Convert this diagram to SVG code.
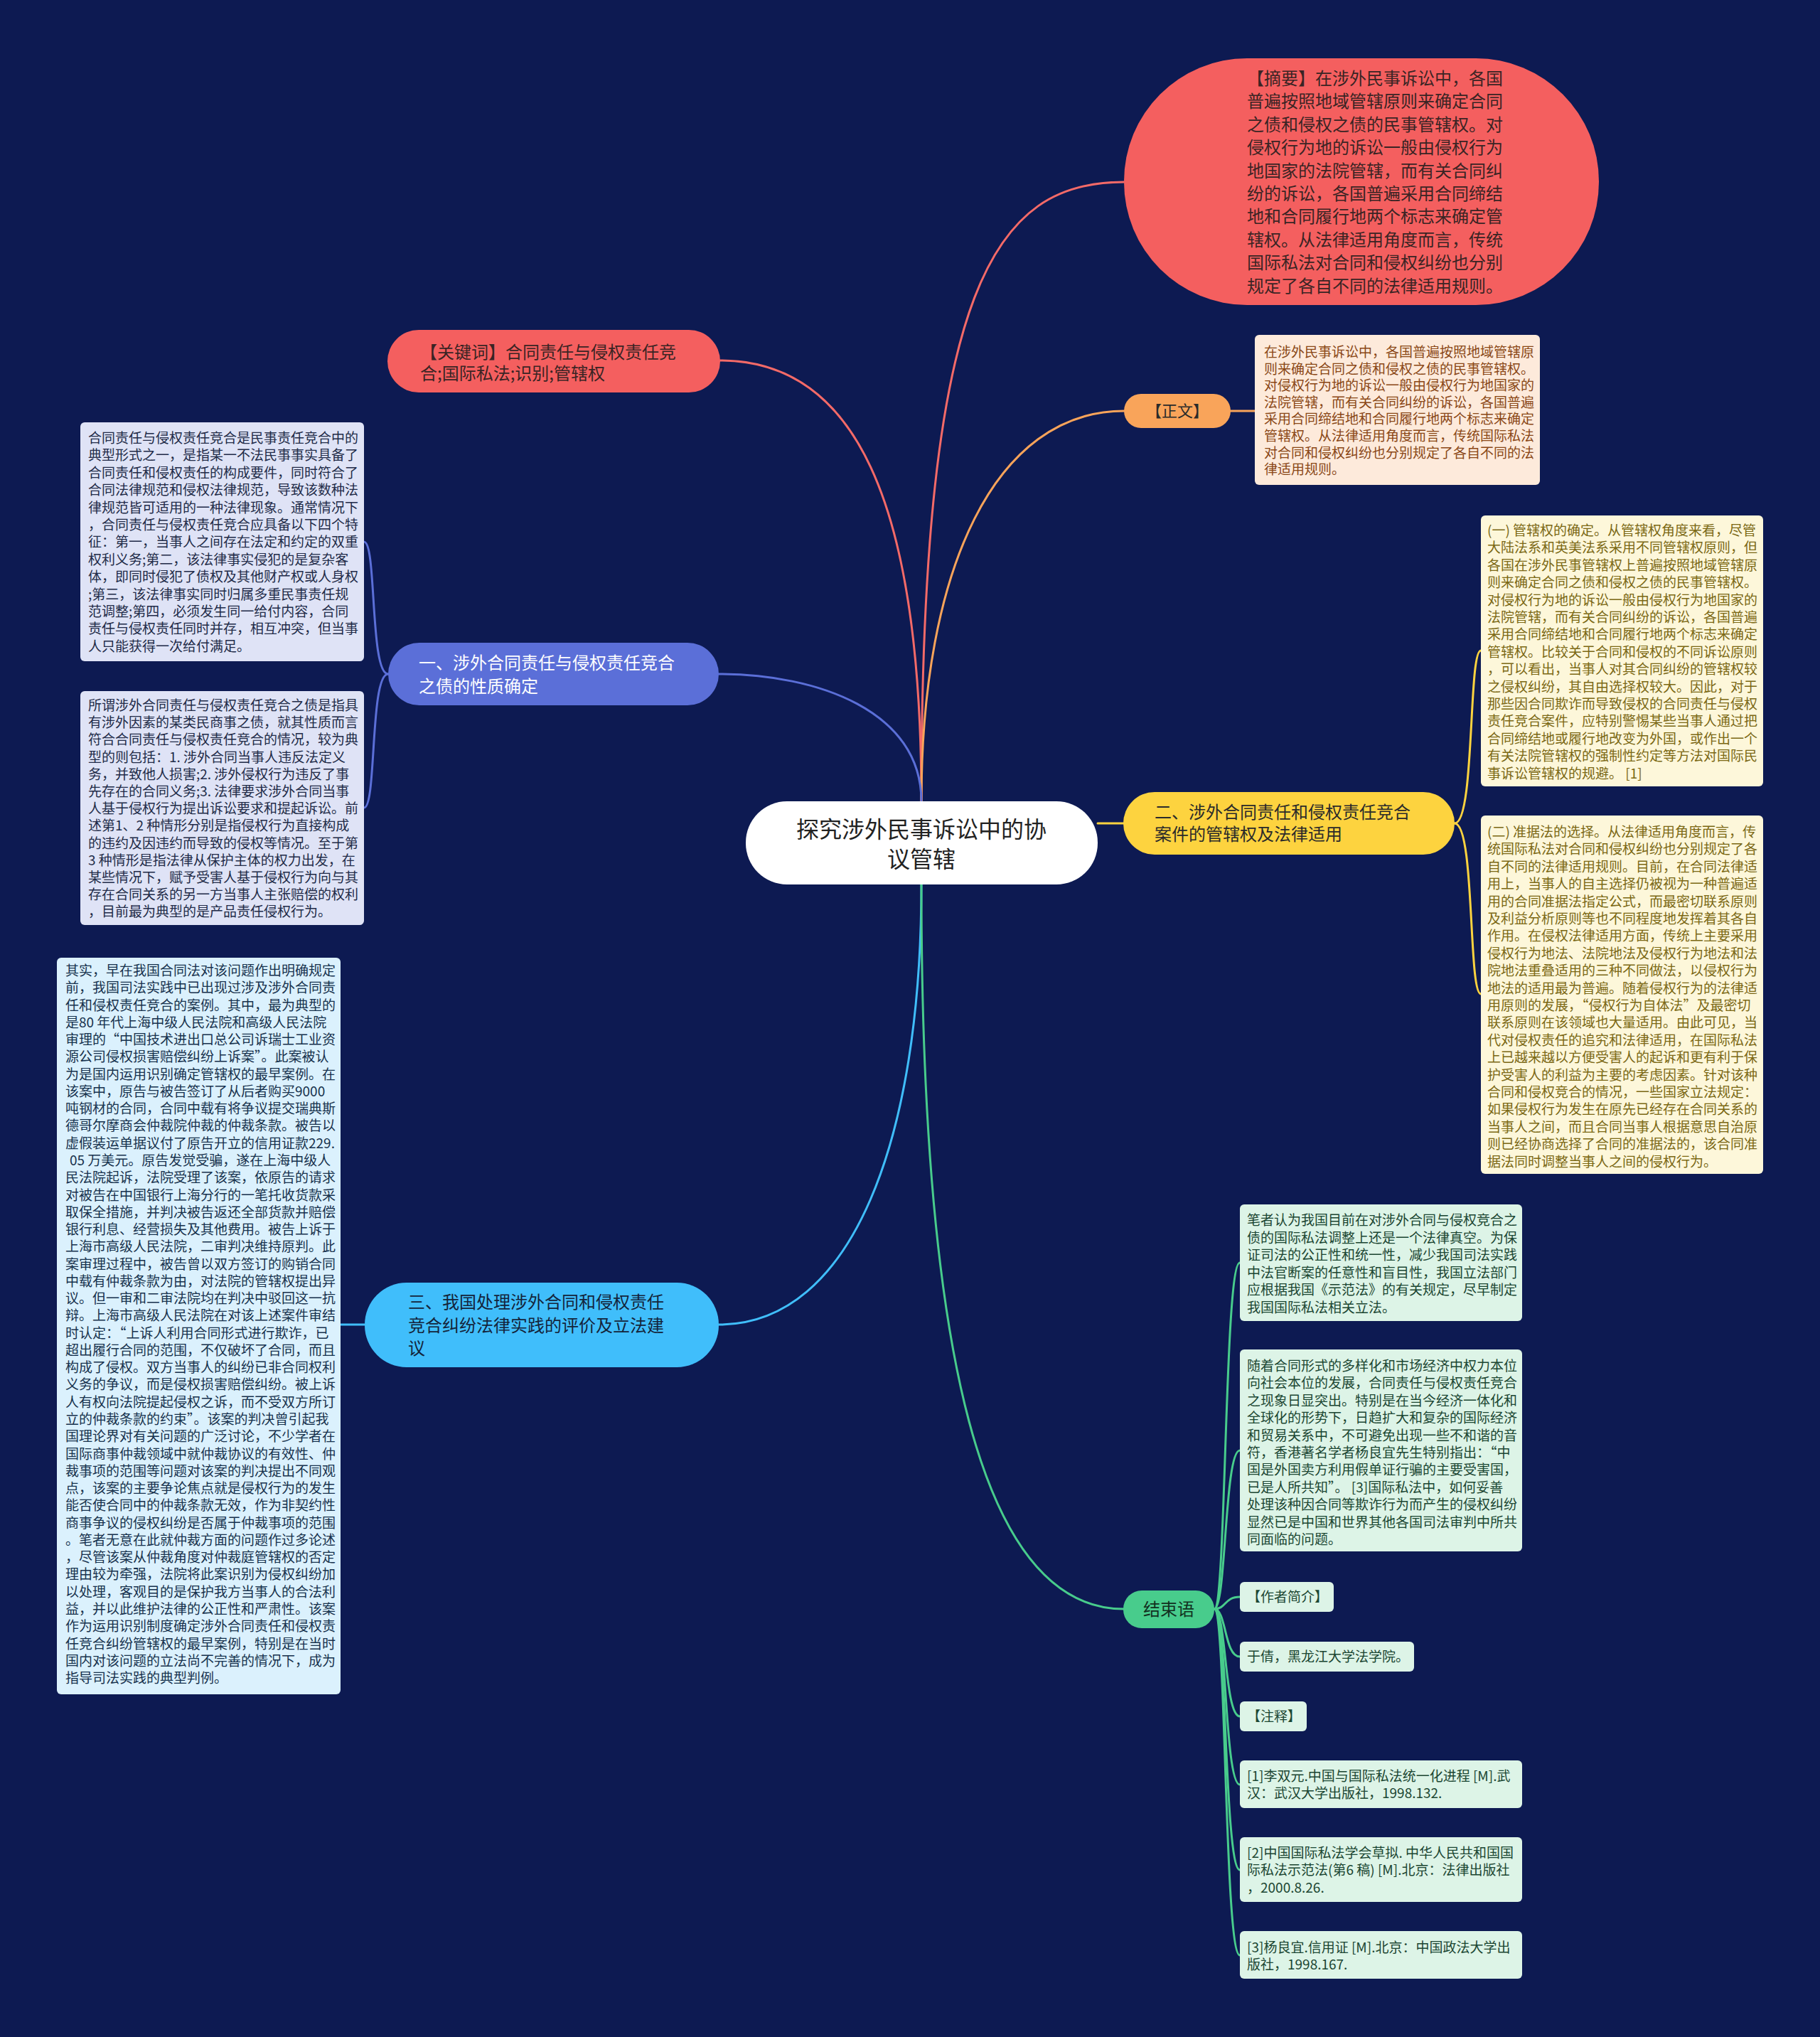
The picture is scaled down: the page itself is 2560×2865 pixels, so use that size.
<svg xmlns="http://www.w3.org/2000/svg" width="2560" height="2865" viewBox="0 0 2560 2865">
<style>
text{font-family:"Noto Sans CJK SC","Noto Sans",sans-serif}
.c{fill:none;stroke-width:3;stroke-linecap:round}
.t19{font-size:19px}
.t24{font-size:24px}
.dark{fill:#2a2a2a}
</style>
<rect x="0" y="0" width="2560" height="2865" fill="#0d1a52"/>
<g id="connectors">
<path class="c" stroke="#f46a68" d="M1296 1127 C1296 400 1400 256 1581 256"/>
<path class="c" stroke="#f46a68" d="M1296 1127 C1296 700 1200 507 1013 507"/>
<path class="c" stroke="#f9a45a" d="M1296 1127 C1296 800 1400 578 1581 578"/>
<path class="c" stroke="#f9a45a" d="M1731 578 L1765 578"/>
<path class="c" stroke="#5b6fd8" d="M1296 1127 C1296 1000 1150 948 1011 948"/>
<path class="c" stroke="#5b6fd8" d="M546 948 C520 948 530 762 512 762"/>
<path class="c" stroke="#5b6fd8" d="M546 948 C520 948 530 1136 512 1136"/>
<path class="c" stroke="#fdd33f" d="M1544 1158 L1580 1158"/>
<path class="c" stroke="#fdd33f" d="M2046 1158 C2075 1158 2065 915 2083 915"/>
<path class="c" stroke="#fdd33f" d="M2046 1158 C2075 1158 2065 1398 2083 1398"/>
<path class="c" stroke="#40befb" d="M1296 1244 C1296 1600 1200 1863 1011 1863"/>
<path class="c" stroke="#40befb" d="M513 1863 L479 1863"/>
<path class="c" stroke="#48cc8c" d="M1296 1244 C1296 1900 1380 2263 1581 2263"/>
<path class="c" stroke="#48cc8c" d="M1708 2263 C1725 2263 1722 1776 1744 1776"/>
<path class="c" stroke="#48cc8c" d="M1708 2263 C1725 2263 1722 2040 1744 2040"/>
<path class="c" stroke="#48cc8c" d="M1708 2263 C1725 2263 1722 2246 1744 2246"/>
<path class="c" stroke="#48cc8c" d="M1708 2263 C1725 2263 1722 2330 1744 2330"/>
<path class="c" stroke="#48cc8c" d="M1708 2263 C1725 2263 1722 2414 1744 2414"/>
<path class="c" stroke="#48cc8c" d="M1708 2263 C1725 2263 1722 2510 1744 2510"/>
<path class="c" stroke="#48cc8c" d="M1708 2263 C1725 2263 1722 2630 1744 2630"/>
<path class="c" stroke="#48cc8c" d="M1708 2263 C1725 2263 1722 2750 1744 2750"/>
</g>
<g id="center">
<rect x="1049" y="1127" width="495" height="117" rx="58" fill="#ffffff"/>
<text x="1296" y="1178" font-size="32" text-anchor="middle" fill="#222">探究涉外民事诉讼中的协</text>
<text x="1296" y="1220" font-size="32" text-anchor="middle" fill="#222">议管辖</text>
</g>
<g id="abstract">
<rect x="1581" y="82" width="668" height="347" rx="173" fill="#f45f5f"/>
<g class="t24" fill="#3a2424">
<text x="1754" y="119">【摘要】在涉外民事诉讼中，各国</text>
<text x="1754" y="151.4">普遍按照地域管辖原则来确定合同</text>
<text x="1754" y="183.8">之债和侵权之债的民事管辖权。对</text>
<text x="1754" y="216.2">侵权行为地的诉讼一般由侵权行为</text>
<text x="1754" y="248.6">地国家的法院管辖，而有关合同纠</text>
<text x="1754" y="281">纷的诉讼，各国普遍采用合同缔结</text>
<text x="1754" y="313.4">地和合同履行地两个标志来确定管</text>
<text x="1754" y="345.8">辖权。从法律适用角度而言，传统</text>
<text x="1754" y="378.2">国际私法对合同和侵权纠纷也分别</text>
<text x="1754" y="410.6">规定了各自不同的法律适用规则。</text>
</g>
</g>
<g id="keywords">
<rect x="545" y="464" width="468" height="88" rx="44" fill="#f45f5f"/>
<text class="t24" x="591" y="504" fill="#3a2424">【关键词】合同责任与侵权责任竞</text>
<text class="t24" x="591" y="534" fill="#3a2424">合;国际私法;识别;管辖权</text>
</g>
<g id="zhengwen">
<rect x="1581" y="554" width="150" height="48" rx="24" fill="#f9a45a"/>
<text x="1656" y="586" font-size="22" text-anchor="middle" fill="#2a2a2a">【正文】</text>
</g>
<g id="zhengwen-text">
<rect x="1765" y="471" width="401" height="211" rx="6" fill="#fdeadb"/>
<g class="t19" fill="#8a4716">
<text x="1778" y="502">在涉外民事诉讼中，各国普遍按照地域管辖原</text>
<text x="1778" y="525.6">则来确定合同之债和侵权之债的民事管辖权。</text>
<text x="1778" y="549.2">对侵权行为地的诉讼一般由侵权行为地国家的</text>
<text x="1778" y="572.8">法院管辖，而有关合同纠纷的诉讼，各国普遍</text>
<text x="1778" y="596.4">采用合同缔结地和合同履行地两个标志来确定</text>
<text x="1778" y="620">管辖权。从法律适用角度而言，传统国际私法</text>
<text x="1778" y="643.6">对合同和侵权纠纷也分别规定了各自不同的法</text>
<text x="1778" y="667.2">律适用规则。</text>
</g>
</g>
<g id="branch2">
<rect x="1580" y="1114" width="466" height="88" rx="44" fill="#fdd33f"/>
<text class="t24" x="1624" y="1151" fill="#2a2a2a">二、涉外合同责任和侵权责任竞合</text>
<text class="t24" x="1624" y="1182" fill="#2a2a2a">案件的管辖权及法律适用</text>
</g>
<g id="branch2-jurisdiction">
<rect x="2083" y="725" width="397" height="381" rx="6" fill="#fdf7da"/>
<g class="t19" fill="#7b6814">
<text x="2092" y="753">(一) 管辖权的确定。从管辖权角度来看，尽管</text>
<text x="2092" y="777.4">大陆法系和英美法系采用不同管辖权原则，但</text>
<text x="2092" y="801.8">各国在涉外民事管辖权上普遍按照地域管辖原</text>
<text x="2092" y="826.2">则来确定合同之债和侵权之债的民事管辖权。</text>
<text x="2092" y="850.6">对侵权行为地的诉讼一般由侵权行为地国家的</text>
<text x="2092" y="875">法院管辖，而有关合同纠纷的诉讼，各国普遍</text>
<text x="2092" y="899.4">采用合同缔结地和合同履行地两个标志来确定</text>
<text x="2092" y="923.8">管辖权。比较关于合同和侵权的不同诉讼原则</text>
<text x="2092" y="948.2">，可以看出，当事人对其合同纠纷的管辖权较</text>
<text x="2092" y="972.6">之侵权纠纷，其自由选择权较大。因此，对于</text>
<text x="2092" y="997">那些因合同欺诈而导致侵权的合同责任与侵权</text>
<text x="2092" y="1021.4">责任竞合案件，应特别警惕某些当事人通过把</text>
<text x="2092" y="1045.8">合同缔结地或履行地改变为外国，或作出一个</text>
<text x="2092" y="1070.2">有关法院管辖权的强制性约定等方法对国际民</text>
<text x="2092" y="1094.6">事诉讼管辖权的规避。 [1]</text>
</g>
</g>
<g id="branch2-law">
<rect x="2083" y="1147" width="397" height="504" rx="6" fill="#fdf7da"/>
<g class="t19" fill="#7b6814">
<text x="2092" y="1177">(二) 准据法的选择。从法律适用角度而言，传</text>
<text x="2092" y="1201.4">统国际私法对合同和侵权纠纷也分别规定了各</text>
<text x="2092" y="1225.8">自不同的法律适用规则。目前，在合同法律适</text>
<text x="2092" y="1250.2">用上，当事人的自主选择仍被视为一种普遍适</text>
<text x="2092" y="1274.6">用的合同准据法指定公式，而最密切联系原则</text>
<text x="2092" y="1299">及利益分析原则等也不同程度地发挥着其各自</text>
<text x="2092" y="1323.4">作用。在侵权法律适用方面，传统上主要采用</text>
<text x="2092" y="1347.8">侵权行为地法、法院地法及侵权行为地法和法</text>
<text x="2092" y="1372.2">院地法重叠适用的三种不同做法，以侵权行为</text>
<text x="2092" y="1396.6">地法的适用最为普遍。随着侵权行为的法律适</text>
<text x="2092" y="1421">用原则的发展，“侵权行为自体法”及最密切</text>
<text x="2092" y="1445.4">联系原则在该领域也大量适用。由此可见，当</text>
<text x="2092" y="1469.8">代对侵权责任的追究和法律适用，在国际私法</text>
<text x="2092" y="1494.2">上已越来越以方便受害人的起诉和更有利于保</text>
<text x="2092" y="1518.6">护受害人的利益为主要的考虑因素。针对该种</text>
<text x="2092" y="1543">合同和侵权竞合的情况，一些国家立法规定：</text>
<text x="2092" y="1567.4">如果侵权行为发生在原先已经存在合同关系的</text>
<text x="2092" y="1591.8">当事人之间，而且合同当事人根据意思自治原</text>
<text x="2092" y="1616.2">则已经协商选择了合同的准据法的，该合同准</text>
<text x="2092" y="1640.6">据法同时调整当事人之间的侵权行为。</text>
</g>
</g>
<g id="branch1">
<rect x="546" y="904" width="465" height="88" rx="44" fill="#5b6fd8"/>
<text class="t24" x="589" y="941" fill="#ffffff">一、涉外合同责任与侵权责任竞合</text>
<text class="t24" x="589" y="974" fill="#ffffff">之债的性质确定</text>
</g>
<g id="branch1-a">
<rect x="113" y="594" width="399" height="336" rx="6" fill="#dfe3f6"/>
<g class="t19" fill="#222b48">
<text x="124" y="623">合同责任与侵权责任竞合是民事责任竞合中的</text>
<text x="124" y="647.4">典型形式之一，是指某一不法民事事实具备了</text>
<text x="124" y="671.8">合同责任和侵权责任的构成要件，同时符合了</text>
<text x="124" y="696.2">合同法律规范和侵权法律规范，导致该数种法</text>
<text x="124" y="720.6">律规范皆可适用的一种法律现象。通常情况下</text>
<text x="124" y="745">，合同责任与侵权责任竞合应具备以下四个特</text>
<text x="124" y="769.4">征：第一，当事人之间存在法定和约定的双重</text>
<text x="124" y="793.8">权利义务;第二，该法律事实侵犯的是复杂客</text>
<text x="124" y="818.2">体，即同时侵犯了债权及其他财产权或人身权</text>
<text x="124" y="842.6">;第三，该法律事实同时归属多重民事责任规</text>
<text x="124" y="867">范调整;第四，必须发生同一给付内容，合同</text>
<text x="124" y="891.4">责任与侵权责任同时并存，相互冲突，但当事</text>
<text x="124" y="915.8">人只能获得一次给付满足。</text>
</g>
</g>
<g id="branch1-b">
<rect x="113" y="972" width="399" height="329" rx="6" fill="#dfe3f6"/>
<g class="t19" fill="#222b48">
<text x="124" y="999">所谓涉外合同责任与侵权责任竞合之债是指具</text>
<text x="124" y="1023.2">有涉外因素的某类民商事之债，就其性质而言</text>
<text x="124" y="1047.4">符合合同责任与侵权责任竞合的情况，较为典</text>
<text x="124" y="1071.6">型的则包括：1. 涉外合同当事人违反法定义</text>
<text x="124" y="1095.8">务，并致他人损害;2. 涉外侵权行为违反了事</text>
<text x="124" y="1120">先存在的合同义务;3. 法律要求涉外合同当事</text>
<text x="124" y="1144.2">人基于侵权行为提出诉讼要求和提起诉讼。前</text>
<text x="124" y="1168.4">述第1、2 种情形分别是指侵权行为直接构成</text>
<text x="124" y="1192.6">的违约及因违约而导致的侵权等情况。至于第</text>
<text x="124" y="1216.8">3 种情形是指法律从保护主体的权力出发，在</text>
<text x="124" y="1241">某些情况下，赋予受害人基于侵权行为向与其</text>
<text x="124" y="1265.2">存在合同关系的另一方当事人主张赔偿的权利</text>
<text x="124" y="1289.4">，目前最为典型的是产品责任侵权行为。</text>
</g>
</g>
<g id="branch3">
<rect x="513" y="1804" width="498" height="119" rx="59" fill="#40befb"/>
<g class="t24" fill="#14243a">
<text x="574" y="1840">三、我国处理涉外合同和侵权责任</text>
<text x="574" y="1873">竞合纠纷法律实践的评价及立法建</text>
<text x="574" y="1905">议</text>
</g>
</g>
<g id="branch3-case">
<rect x="80" y="1347" width="399" height="1036" rx="6" fill="#dbf1fd"/>
<g class="t19" fill="#17324d">
<text x="92" y="1372">其实，早在我国合同法对该问题作出明确规定</text>
<text x="92" y="1396.27">前，我国司法实践中已出现过涉及涉外合同责</text>
<text x="92" y="1420.54">任和侵权责任竞合的案例。其中，最为典型的</text>
<text x="92" y="1444.81">是80 年代上海中级人民法院和高级人民法院</text>
<text x="92" y="1469.08">审理的“中国技术进出口总公司诉瑞士工业资</text>
<text x="92" y="1493.35">源公司侵权损害赔偿纠纷上诉案”。此案被认</text>
<text x="92" y="1517.62">为是国内运用识别确定管辖权的最早案例。在</text>
<text x="92" y="1541.89">该案中，原告与被告签订了从后者购买9000</text>
<text x="92" y="1566.16">吨钢材的合同，合同中载有将争议提交瑞典斯</text>
<text x="92" y="1590.43">德哥尔摩商会仲裁院仲裁的仲裁条款。被告以</text>
<text x="92" y="1614.7">虚假装运单据议付了原告开立的信用证款229.</text>
<text x="98" y="1638.97">05 万美元。原告发觉受骗，遂在上海中级人</text>
<text x="92" y="1663.24">民法院起诉，法院受理了该案，依原告的请求</text>
<text x="92" y="1687.51">对被告在中国银行上海分行的一笔托收货款采</text>
<text x="92" y="1711.78">取保全措施，并判决被告返还全部货款并赔偿</text>
<text x="92" y="1736.05">银行利息、经营损失及其他费用。被告上诉于</text>
<text x="92" y="1760.32">上海市高级人民法院，二审判决维持原判。此</text>
<text x="92" y="1784.59">案审理过程中，被告曾以双方签订的购销合同</text>
<text x="92" y="1808.86">中载有仲裁条款为由，对法院的管辖权提出异</text>
<text x="92" y="1833.13">议。但一审和二审法院均在判决中驳回这一抗</text>
<text x="92" y="1857.4">辩。上海市高级人民法院在对该上述案件审结</text>
<text x="92" y="1881.67">时认定：“上诉人利用合同形式进行欺诈，已</text>
<text x="92" y="1905.94">超出履行合同的范围，不仅破坏了合同，而且</text>
<text x="92" y="1930.21">构成了侵权。双方当事人的纠纷已非合同权利</text>
<text x="92" y="1954.48">义务的争议，而是侵权损害赔偿纠纷。被上诉</text>
<text x="92" y="1978.75">人有权向法院提起侵权之诉，而不受双方所订</text>
<text x="92" y="2003.02">立的仲裁条款的约束”。该案的判决曾引起我</text>
<text x="92" y="2027.29">国理论界对有关问题的广泛讨论，不少学者在</text>
<text x="92" y="2051.56">国际商事仲裁领域中就仲裁协议的有效性、仲</text>
<text x="92" y="2075.83">裁事项的范围等问题对该案的判决提出不同观</text>
<text x="92" y="2100.1">点，该案的主要争论焦点就是侵权行为的发生</text>
<text x="92" y="2124.37">能否使合同中的仲裁条款无效，作为非契约性</text>
<text x="92" y="2148.64">商事争议的侵权纠纷是否属于仲裁事项的范围</text>
<text x="92" y="2172.91">。笔者无意在此就仲裁方面的问题作过多论述</text>
<text x="92" y="2197.18">，尽管该案从仲裁角度对仲裁庭管辖权的否定</text>
<text x="92" y="2221.45">理由较为牵强，法院将此案识别为侵权纠纷加</text>
<text x="92" y="2245.72">以处理，客观目的是保护我方当事人的合法利</text>
<text x="92" y="2269.99">益，并以此维护法律的公正性和严肃性。该案</text>
<text x="92" y="2294.26">作为运用识别制度确定涉外合同责任和侵权责</text>
<text x="92" y="2318.53">任竞合纠纷管辖权的最早案例，特别是在当时</text>
<text x="92" y="2342.8">国内对该问题的立法尚不完善的情况下，成为</text>
<text x="92" y="2367.07">指导司法实践的典型判例。</text>
</g>
</g>
<g id="conclusion">
<rect x="1580" y="2237" width="128" height="53" rx="26" fill="#48cc8c"/>
<text class="t24" x="1644" y="2272" text-anchor="middle" fill="#12301f">结束语</text>
</g>
<g id="conclusion-1">
<rect x="1744" y="1694" width="397" height="164" rx="6" fill="#ddf4e7"/>
<g class="t19" fill="#1b4632">
<text x="1754" y="1723">笔者认为我国目前在对涉外合同与侵权竞合之</text>
<text x="1754" y="1747.5">债的国际私法调整上还是一个法律真空。为保</text>
<text x="1754" y="1772">证司法的公正性和统一性，减少我国司法实践</text>
<text x="1754" y="1796.5">中法官断案的任意性和盲目性，我国立法部门</text>
<text x="1754" y="1821">应根据我国《示范法》的有关规定，尽早制定</text>
<text x="1754" y="1845.5">我国国际私法相关立法。</text>
</g>
</g>
<g id="conclusion-2">
<rect x="1744" y="1898" width="397" height="284" rx="6" fill="#ddf4e7"/>
<g class="t19" fill="#1b4632">
<text x="1754" y="1928">随着合同形式的多样化和市场经济中权力本位</text>
<text x="1754" y="1952.4">向社会本位的发展，合同责任与侵权责任竞合</text>
<text x="1754" y="1976.8">之现象日显突出。特别是在当今经济一体化和</text>
<text x="1754" y="2001.2">全球化的形势下，日趋扩大和复杂的国际经济</text>
<text x="1754" y="2025.6">和贸易关系中，不可避免出现一些不和谐的音</text>
<text x="1754" y="2050">符，香港著名学者杨良宜先生特别指出：“中</text>
<text x="1754" y="2074.4">国是外国卖方利用假单证行骗的主要受害国，</text>
<text x="1754" y="2098.8">已是人所共知”。 [3]国际私法中，如何妥善</text>
<text x="1754" y="2123.2">处理该种因合同等欺诈行为而产生的侵权纠纷</text>
<text x="1754" y="2147.6">显然已是中国和世界其他各国司法审判中所共</text>
<text x="1754" y="2172">同面临的问题。</text>
</g>
</g>
<g id="author-title">
<rect x="1744" y="2225" width="132" height="42" rx="6" fill="#ddf4e7"/>
<text class="t19" x="1754" y="2253" fill="#1b4632">【作者简介】</text>
</g>
<g id="author">
<rect x="1744" y="2309" width="245" height="42" rx="6" fill="#ddf4e7"/>
<text class="t19" x="1754" y="2337" fill="#1b4632">于倩，黑龙江大学法学院。</text>
</g>
<g id="notes-title">
<rect x="1744" y="2393" width="94" height="42" rx="6" fill="#ddf4e7"/>
<text class="t19" x="1754" y="2421" fill="#1b4632">【注释】</text>
</g>
<g id="note-1">
<rect x="1744" y="2476" width="397" height="67" rx="6" fill="#ddf4e7"/>
<text class="t19" x="1754" y="2505" fill="#1b4632">[1]李双元.中国与国际私法统一化进程 [M].武</text>
<text class="t19" x="1754" y="2529" fill="#1b4632">汉：武汉大学出版社，1998.132.</text>
</g>
<g id="note-2">
<rect x="1744" y="2584" width="397" height="91" rx="6" fill="#ddf4e7"/>
<text class="t19" x="1754" y="2613" fill="#1b4632">[2]中国国际私法学会草拟. 中华人民共和国国</text>
<text class="t19" x="1754" y="2637" fill="#1b4632">际私法示范法(第6 稿) [M].北京：法律出版社</text>
<text class="t19" x="1754" y="2662" fill="#1b4632">，2000.8.26.</text>
</g>
<g id="note-3">
<rect x="1744" y="2716" width="397" height="67" rx="6" fill="#ddf4e7"/>
<text class="t19" x="1754" y="2746" fill="#1b4632">[3]杨良宜.信用证 [M].北京：中国政法大学出</text>
<text class="t19" x="1754" y="2770" fill="#1b4632">版社，1998.167.</text>
</g>
</svg>
